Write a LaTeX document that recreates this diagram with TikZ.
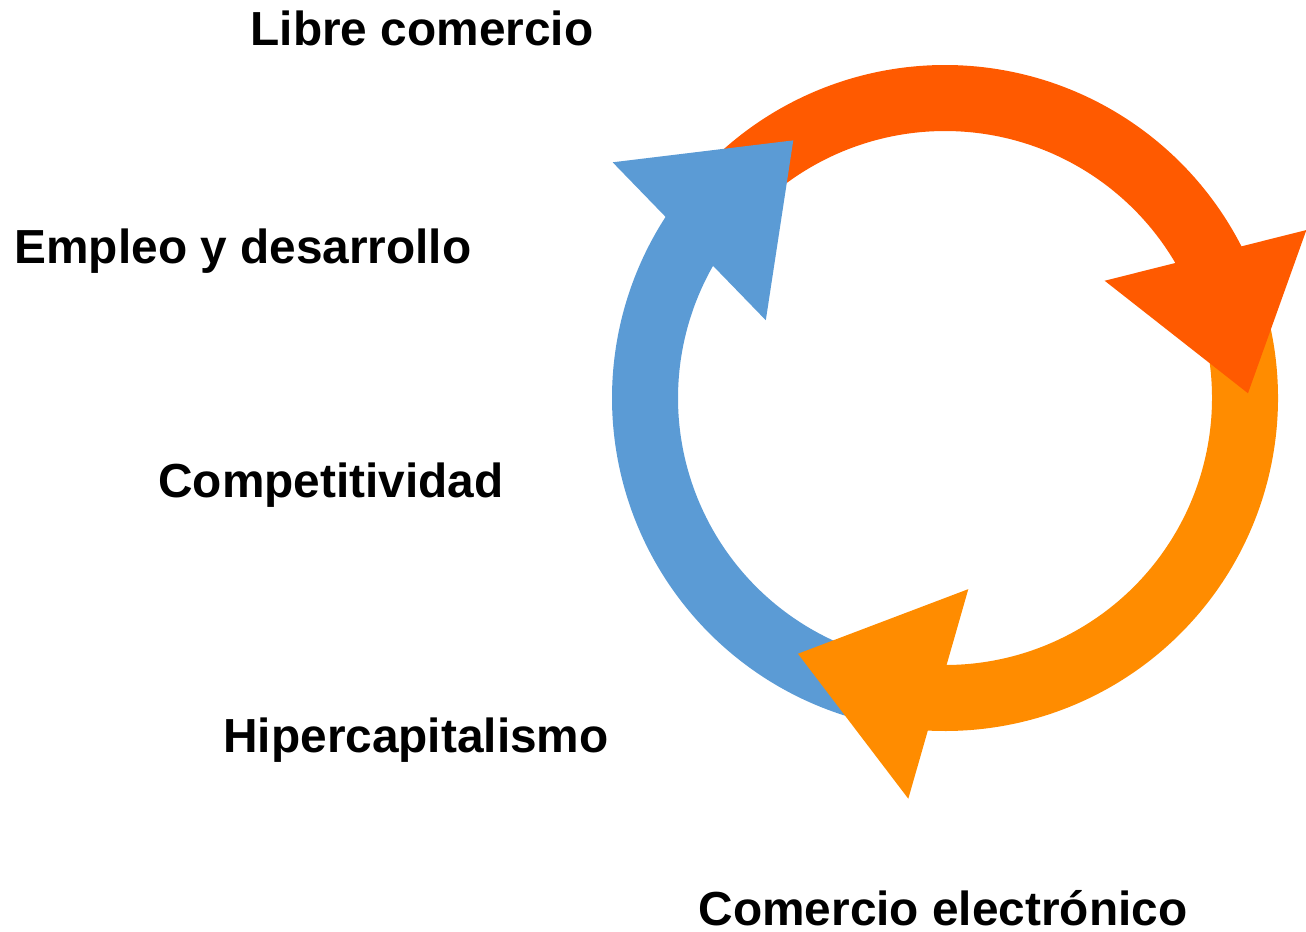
\documentclass[tikz,border=0pt]{standalone}
\usepackage{fontspec}
\setmainfont{Liberation Sans}
\usetikzlibrary{calc}
\definecolor{cyclered}{RGB}{255,90,0}
\definecolor{cycleorange}{RGB}{255,140,0}
\definecolor{cycleblue}{RGB}{91,155,213}
\tikzset{
  cyclelabel/.style={anchor=base, inner sep=0pt, font=\fontsize{13.6}{16}\selectfont\bfseries},
}
\begin{document}
\begin{tikzpicture}
            \useasboundingbox (0,0) rectangle (13.06,9.31);
            \begin{scope}[shift={(9.45,5.33)}]
            
            % Drawing shaft red
            \fill [cyclered] (140:3.33) arc [start angle=140, end angle=25.2, radius=3.33]
              -- (25.2:2.67) arc [start angle=25.2, end angle=140, radius=2.67] -- cycle;%
            
            % Drawing shaft orange
            \fill [cycleorange] (18:3.33) arc [start angle=18, end angle=-94.8, radius=3.33]
              -- (-94.8:2.67) arc [start angle=-94.8, end angle=18, radius=2.67] -- cycle;%
            
            % Drawing shaft blue
            \fill [cycleblue] (-105:3.33) arc [start angle=-105, end angle=-215, radius=3.33]
              -- (-215:2.67) arc [start angle=-215, end angle=-105, radius=2.67] -- cycle;%
            
            % Marking heads base and tip
            \coordinate (redbase) at (28.7:2.97);%
            \coordinate (redtip) at (0.9:3.03);%
            \coordinate (orangebase) at (-91.3:2.96);%
            \coordinate (orangetip) at (-119.9:2.95);%
            \coordinate (bluebase) at (148.5:3.0);%
            \coordinate (bluetip) at (120.5:2.99);%
            
            % Drawing head red
            \fill [cyclered] ($(redbase)!1.04cm!87:(redtip)$) -- (redtip)
              -- ($(redbase)!1.04cm!-93:(redtip)$) -- cycle;%
            
            % Drawing head orange
            \fill [cycleorange] ($(orangebase)!1.09cm!90:(orangetip)$) -- (orangetip)
              -- ($(orangebase)!1.09cm!-90:(orangetip)$) -- cycle;%
            
            % Drawing head blue
            \fill [cycleblue] ($(bluebase)!1.10cm!90:(bluetip)$) -- (bluetip)
              -- ($(bluebase)!1.10cm!-90:(bluetip)$) -- cycle;%
            \end{scope}
            
            % Marking labels
            \node [cyclelabel] (libre) at (4.22,8.86) {Libre comercio};%
            \node [cyclelabel] (empleo) at (2.43,6.68) {Empleo y desarrollo};%
            \node [cyclelabel] (compet) at (3.31,4.34) {Competitividad};%
            \node [cyclelabel] (hiper) at (4.16,1.79) {Hipercapitalismo};%
            \node [cyclelabel] (ecomercio) at (9.43,0.06) {Comercio electrónico};%
        \end{tikzpicture}
\end{document}
